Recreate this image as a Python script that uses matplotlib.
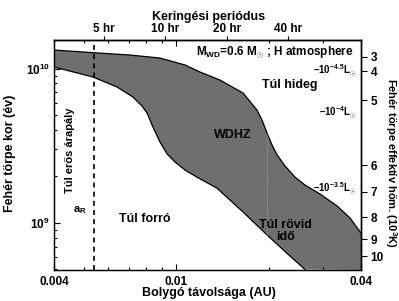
import numpy as np
import matplotlib
matplotlib.use("Agg")
import matplotlib.pyplot as plt
from matplotlib.ticker import FixedLocator, NullLocator, NullFormatter

plt.rcParams["font.family"] = ["Liberation Sans", "DejaVu Sans"]
plt.rcParams["font.weight"] = "bold"
plt.rcParams["mathtext.fontset"] = "custom"
plt.rcParams["mathtext.rm"] = "Liberation Sans:bold"
plt.rcParams["mathtext.bf"] = "Liberation Sans:bold"
plt.rcParams["mathtext.it"] = "Liberation Sans:bold"

# habitable zone edges: planet distance (AU) vs white dwarf age (yr)
upper_a = [0.004, 0.00536, 0.00707, 0.00886, 0.01069, 0.01196, 0.01389, 0.01651,
           0.01833, 0.01904, 0.01977, 0.02052, 0.02131, 0.02262, 0.02438, 0.02628,
           0.02941, 0.03341, 0.03683, 0.04]
upper_age = [1.318e10, 1.266e10, 1.223e10, 1.169e10, 1.054e10, 9.49e9, 8.42e9, 6.94e9,
             5.39e9, 4.64e9, 3.82e9, 3.20e9, 2.76e9, 2.34e9, 1.98e9, 1.76e9,
             1.54e9, 1.29e9, 1.077e9, 8.61e8]
lower_a = [0.004, 0.00536, 0.00642, 0.00723, 0.00774, 0.00804, 0.00840, 0.00886,
           0.00934, 0.00992, 0.01069, 0.01169, 0.01358, 0.01651, 0.01977, 0.02348, 0.02628]
lower_age = [1.023e10, 8.81e9, 7.59e9, 6.54e9, 5.72e9, 5.15e9, 4.18e9, 3.34e9,
             2.80e9, 2.48e9, 2.20e9, 1.98e9, 1.68e9, 1.178e9, 8.36e8, 6.11e8, 5.0e8]

a_roche = 0.0054          # tidal (Roche) limit
a_dotted = 0.0198         # dotted divider inside the zone
m_wd = 0.6                # white dwarf mass (Msun)

period_ticks = [5, 10, 20, 40]                      # hr
teff_labels = [3, 4, 5, 6, 7, 8, 9, 10]             # 10^3 K
teff_age = [1.19e10, 9.6e9, 6.25e9, 2.37e9, 1.59e9, 1.09e9, 7.87e8, 6.1e8]
lum_labels = ["-4.5", "-4", "-3.5"]
lum_age = [9.6e9, 5.15e9, 1.66e9]

xlim = (0.004, 0.04)
ylim = (4.96e8, 1.53e10)

fig = plt.figure(figsize=(3.99, 3.01), dpi=100)
ax = fig.add_axes([54 / 399, 31 / 301, 307 / 399, 230 / 301])
ax.set_xscale("log")
ax.set_yscale("log")
ax.set_xlim(xlim)
ax.set_ylim(ylim)

# shaded WDHZ region
poly_x = upper_a + [xlim[1]] + lower_a[::-1]
poly_y = upper_age + [ylim[0]] + lower_age[::-1]
ax.fill(poly_x, poly_y, color="#6f6f6f", lw=0, zorder=1)
ax.plot(upper_a, upper_age, color="black", lw=0.9, zorder=2)
ax.plot(lower_a, lower_age, color="black", lw=0.9, zorder=2)

# dotted divider between the two edges
y_top = 10 ** np.interp(np.log10(a_dotted), np.log10(upper_a), np.log10(upper_age))
y_bot = 10 ** np.interp(np.log10(a_dotted), np.log10(lower_a), np.log10(lower_age))
ax.plot([a_dotted, a_dotted], [y_bot, y_top], color="#9a9a9a", lw=0.8, ls=(0, (1, 1.2)), zorder=3)

# Roche limit
ax.axvline(a_roche, color="black", lw=1.2, ls=(0, (3, 2.5)), zorder=3)

# bottom / left axes
ax.xaxis.set_major_locator(FixedLocator([0.004, 0.01, 0.04]))
ax.set_xticklabels(["0.004", "0.01", "0.04"])
ax.xaxis.set_minor_locator(FixedLocator([0.005, 0.006, 0.007, 0.008, 0.009, 0.02, 0.03]))
ax.xaxis.set_minor_formatter(NullFormatter())
ax.yaxis.set_major_locator(FixedLocator([1e9, 1e10]))
ax.set_yticklabels([r"10$^{9}$", r"10$^{10}$"])
ax.tick_params(which="both", direction="in", top=True, right=False, labelsize=8.5, width=0.8)
ax.tick_params(which="major", length=4)
ax.tick_params(which="minor", length=2.5)
ax.tick_params(axis="x", pad=4)
ax.tick_params(axis="y", pad=3)
for s in ax.spines.values():
    s.set_linewidth(1.0)

# top axis: orbital period
def a_to_p(a):
    a = np.asarray(a, dtype=float)
    return np.abs(a) ** 1.5 / np.sqrt(m_wd) * 8766.0

def p_to_a(p):
    p = np.asarray(p, dtype=float)
    return (np.abs(p) / 8766.0 * np.sqrt(m_wd)) ** (2.0 / 3.0)

top = ax.secondary_xaxis("top", functions=(a_to_p, p_to_a))
top.xaxis.set_major_locator(FixedLocator(period_ticks))
top.set_xticklabels([f"{p} hr" for p in period_ticks])
top.xaxis.set_minor_locator(NullLocator())
top.tick_params(direction="out", length=3, width=0.8, pad=0.5, labelsize=8.5)
top.spines["top"].set_linewidth(1.0)

# right axis: effective temperature
ax2 = ax.twinx()
ax2.set_yscale("log")
ax2.set_ylim(ylim)
ax2.yaxis.set_major_locator(FixedLocator(teff_age))
ax2.set_yticklabels([str(t) for t in teff_labels])
ax2.yaxis.set_minor_locator(NullLocator())
ax2.tick_params(direction="out", length=4, width=0.8, pad=3, labelsize=8.5)
ax2.spines["right"].set_linewidth(1.0)

# luminosity markers along the right edge
for exp, age in zip(lum_labels, lum_age):
    ax.text(0.985, age, r"–10$^{%s}$L$_{\odot}$" % exp, transform=ax.get_yaxis_transform(),
            ha="right", va="center", fontsize=7, zorder=4)

# region labels
ax.text(0.0153, 3.71e9, "WDHZ", ha="center", va="center", fontsize=9, zorder=4)
ax.text(0.0235, 7.82e9, "Túl hideg", ha="center", va="center", fontsize=9, zorder=4)
ax.text(0.00792, 1.06e9, "Túl forró", ha="center", va="center", fontsize=9, zorder=4)
ax.text(0.0227, 8.9e8, "Túl rövid\nidő", ha="center", va="center", fontsize=9,
        linespacing=1.0, zorder=4)
ax.text(0.00451, 2.97e9, "Túl erős árapály", ha="center", va="center", rotation=90,
        fontsize=8, zorder=4)
ax.text(0.00486, 1.21e9, r"a$_{R}$", ha="center", va="center", fontsize=8, zorder=4)
ax.text(0.975, 0.948, r"M$_{\mathrm{WD}}$=0.6 M$_{\odot}$ ; H atmosphere",
        transform=ax.transAxes, ha="right", va="center", fontsize=8.5, zorder=4)

# axis titles
fig.text(209 / 399, 1 - 17 / 301, "Keringési periódus", ha="center", va="center", fontsize=9)
fig.text(209 / 399, 1 - 293 / 301, "Bolygó távolsága (AU)", ha="center", va="center", fontsize=9)
fig.text(10 / 399, 1 - 153 / 301, "Fehér törpe kor (év)", ha="center", va="center",
         rotation=90, fontsize=9)
fig.text(391 / 399, 1 - 163 / 301, "Fehér törpe effektív hőm. (10$^{3}$K)", ha="center",
         va="center", rotation=270, fontsize=8)

fig.savefig("out.png", dpi=100)
